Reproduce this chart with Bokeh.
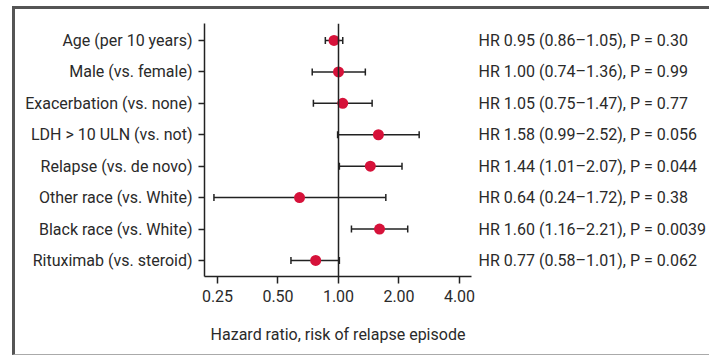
from bokeh.plotting import figure
from bokeh.models import (ColumnDataSource, Whisker, TeeHead, Span, LinearAxis,
                          FixedTicker, Range1d, InlineStyleSheet)
from bokeh.embed import file_html
from bokeh.resources import INLINE

labels = ["Age (per 10 years)", "Male (vs. female)", "Exacerbation (vs. none)",
          "LDH > 10 ULN (vs. not)", "Relapse (vs. de novo)", "Other race (vs. White)",
          "Black race (vs. White)", "Rituximab (vs. steroid)"]
hr = [0.95, 1.00, 1.05, 1.58, 1.44, 0.64, 1.60, 0.77]
lo = [0.86, 0.74, 0.75, 0.99, 1.01, 0.24, 1.16, 0.58]
hi = [1.05, 1.36, 1.47, 2.52, 2.07, 1.72, 2.21, 1.01]
pvals = ["0.30", "0.99", "0.77", "0.056", "0.044", "0.38", "0.0039", "0.062"]
x_ticks = [0.25, 0.5, 1.0, 2.0, 4.0]
x_tick_labels = ["0.25", "0.50", "1.00", "2.00", "4.00"]
x_label = "Hazard ratio, risk of relapse episode"

FONT = "Roboto"
FS = "16px"
TXT = "#2a2a2a"
LINE = "#222222"
RED = "#d6123a"

n = len(labels)
ys = [n - 1 - i for i in range(n)]
X0, X1 = 0.2154, 4.59
hr_text = [f"HR {h:.2f} ({l:.2f}\u2013{u:.2f}), P = {p}" for h, l, u, p in zip(hr, lo, hi, pvals)]

src = ColumnDataSource(dict(y=ys, hr=hr, lo=lo, hi=hi))

p = figure(width=709, height=356, x_axis_type="log", output_backend="svg",
           toolbar_location=None, x_range=Range1d(X0, X1),
           y_range=Range1d(-0.51, n - 1 + 0.54),
           min_border_left=204, min_border_right=238, min_border_top=23, min_border_bottom=80)
p.outline_line_color = None
p.xgrid.visible = False
p.ygrid.visible = False
p.background_fill_color = "white"
p.border_fill_color = "white"

p.add_layout(Span(location=1.0, dimension="height", line_color=LINE, line_width=1.5))

wh = Whisker(source=src, base="y", lower="lo", upper="hi", dimension="width",
             line_color=LINE, line_width=1.5,
             lower_head=TeeHead(size=7, line_color=LINE, line_width=1.5),
             upper_head=TeeHead(size=7, line_color=LINE, line_width=1.5))
p.add_layout(wh)
p.scatter("hr", "y", source=src, size=11, fill_color=RED, line_color=None)

# x axis
xa = p.xaxis[0]
xa.ticker = FixedTicker(ticks=x_ticks)
xa.major_label_overrides = {t: s for t, s in zip(x_ticks, x_tick_labels)}
xa.minor_tick_line_color = None
xa.major_tick_in = 0
xa.major_tick_out = 7
xa.major_tick_line_width = 1.5
xa.axis_line_width = 1.5
xa.axis_line_color = LINE
xa.major_tick_line_color = LINE
xa.major_label_text_font = FONT
xa.major_label_text_font_size = FS
xa.major_label_text_color = TXT
xa.major_label_standoff = 6
xa.axis_label = x_label
xa.axis_label_text_font = FONT
xa.axis_label_text_font_size = FS
xa.axis_label_text_font_style = "normal"
xa.axis_label_text_color = TXT
xa.axis_label_standoff = 20

ya = p.yaxis[0]
ya.ticker = FixedTicker(ticks=ys)
ya.major_label_overrides = {y: l for y, l in zip(ys, labels)}
ya.minor_tick_line_color = None
ya.major_tick_in = 0
ya.major_tick_out = 6
ya.major_tick_line_width = 1.5
ya.axis_line_width = 1.5
ya.axis_line_color = LINE
ya.major_tick_line_color = LINE
ya.major_label_text_font = FONT
ya.major_label_text_font_size = FS
ya.major_label_text_color = TXT
ya.major_label_standoff = 6

# right-hand HR / P text as a label-only axis
ra = LinearAxis(ticker=FixedTicker(ticks=ys),
                major_label_overrides={y: t for y, t in zip(ys, hr_text)},
                axis_line_color=None, major_tick_line_color=None,
                minor_tick_line_color=None, major_tick_in=0, major_tick_out=0,
                major_label_standoff=7, major_label_text_font=FONT,
                major_label_text_font_size=FS, major_label_text_color=TXT)
p.add_layout(ra, "right")

# outer frame of the figure panel
p.stylesheets = [InlineStyleSheet(css="""
:host { position: relative; }
:host::after {
  content: ""; position: absolute; left: 12px; top: 6px;
  width: 697px; height: 349px; box-sizing: border-box;
  border-top: 3px solid #555555; border-left: 3px solid #555555;
  border-bottom: 1px solid #aaaaaa; pointer-events: none;
}
""")]

open("out.html", "w").write(file_html(p, INLINE))
